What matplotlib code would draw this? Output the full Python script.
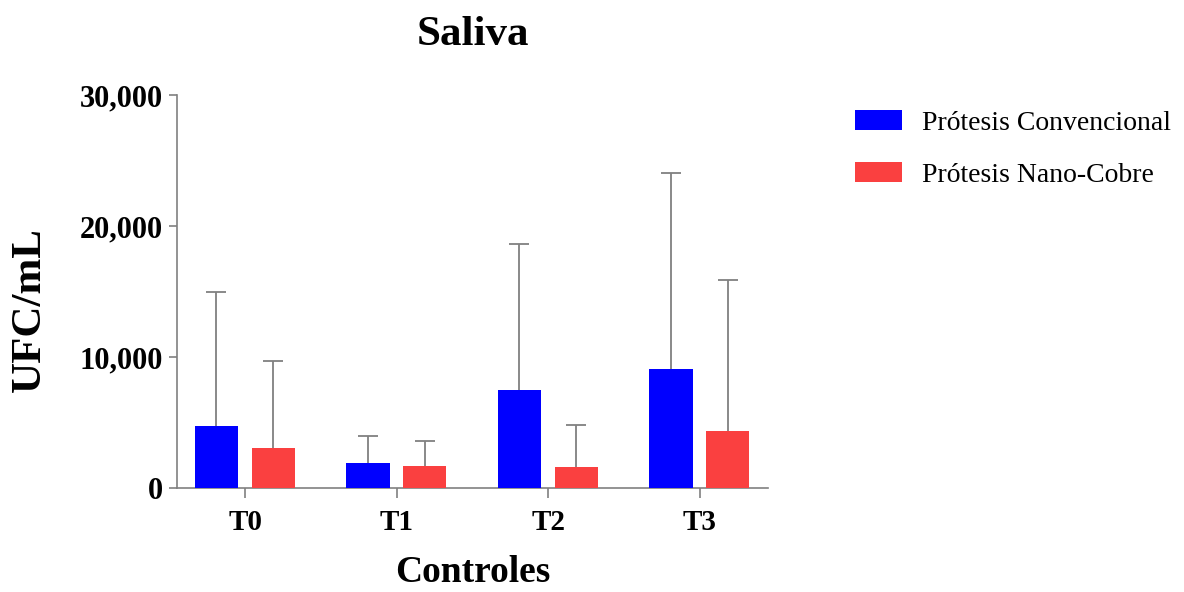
import numpy as np
import matplotlib.pyplot as plt
from matplotlib.ticker import FuncFormatter

GROUPS = ["T0", "T1", "T2", "T3"]
SERIES = ["Prótesis Convencional", "Prótesis Nano-Cobre"]

convencional = [4730, 1880, 7500, 9080]
convencional_sd = [10220, 2070, 11150, 14940]
nano_cobre = [3080, 1680, 1630, 4330]
nano_cobre_sd = [6640, 1910, 3150, 11570]

COLORS = ["#0000ff", "#fa4040"]
AXIS_GRAY = "#808080"

plt.rcParams["font.family"] = ["Liberation Serif", "DejaVu Serif"]

fig = plt.figure(figsize=(11.84, 5.92), dpi=100)
ax = fig.add_axes([0.1495, 0.1757, 0.4991, 0.6638])

x = np.arange(len(GROUPS))
width = 0.285
offsets = [-0.19, 0.185]
values = [convencional, nano_cobre]
errors = [convencional_sd, nano_cobre_sd]

for i, name in enumerate(SERIES):
    ax.bar(x + offsets[i], values[i], width, color=COLORS[i], label=name, zorder=3)
    # upper error bar only
    _, caps, _ = ax.errorbar(
        x + offsets[i], values[i],
        yerr=[np.zeros(len(GROUPS)), errors[i]],
        fmt="none", ecolor=AXIS_GRAY, elinewidth=1.3,
        capsize=7, capthick=1.3, zorder=2,
    )
    caps[0].set_visible(False)

ax.set_xlim(-0.45, 3.45)
ax.set_ylim(0, 30000)
ax.set_yticks([0, 10000, 20000, 30000])
ax.yaxis.set_major_formatter(FuncFormatter(lambda v, p: f"{int(v):,}"))
ax.set_xticks(x)
ax.set_xticklabels(GROUPS)

for side in ["top", "right"]:
    ax.spines[side].set_visible(False)
for side in ["left", "bottom"]:
    ax.spines[side].set_color(AXIS_GRAY)
    ax.spines[side].set_linewidth(1.2)

ax.tick_params(axis="both", colors=AXIS_GRAY, width=1.2, length=7, direction="out")
ax.tick_params(axis="y", length=6)
for lab in ax.get_xticklabels():
    lab.set_color("black")
    lab.set_fontweight("bold")
    lab.set_fontsize(21)
for lab in ax.get_yticklabels():
    lab.set_color("black")
    lab.set_fontweight("bold")
    lab.set_fontsize(22)
ax.tick_params(axis="x", pad=8)
ax.tick_params(axis="y", pad=4)

ax.set_title("Saliva", fontsize=31, fontweight="bold", pad=36)
ax.set_xlabel("Controles", fontsize=27, fontweight="bold", labelpad=14)
ax.set_ylabel("UFC/mL", fontsize=31, fontweight="bold")
ax.yaxis.set_label_coords(-0.217, 0.455)

ax.legend(
    loc="upper left", bbox_to_anchor=(1.105, 1.025), frameon=False,
    fontsize=20, handlelength=1.7, handleheight=0.72,
    handletextpad=0.7, labelspacing=0.95,
)

fig.savefig("out.png", dpi=100, facecolor="white")
